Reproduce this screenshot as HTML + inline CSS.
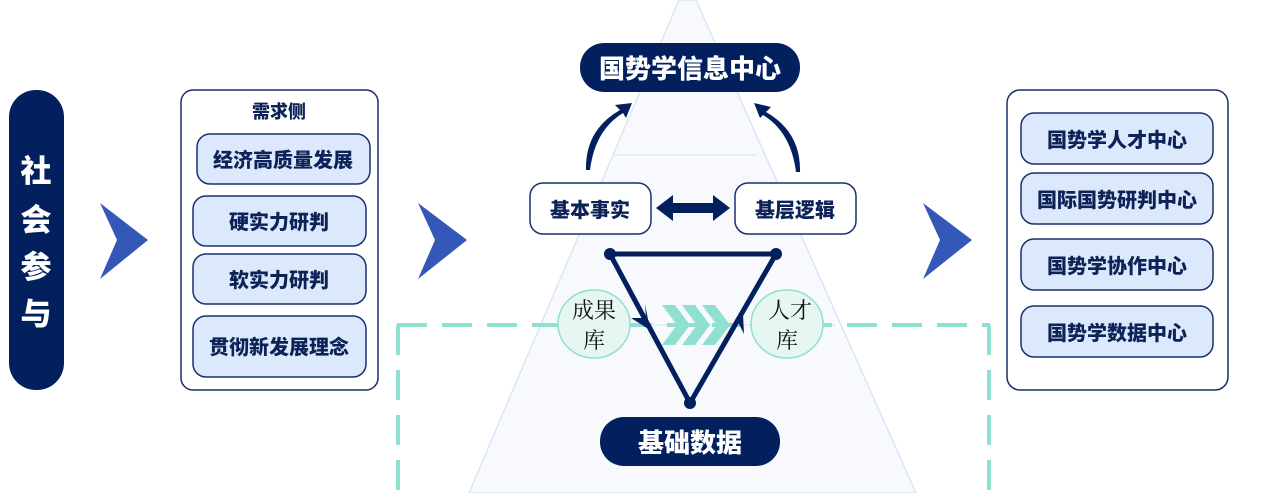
<!DOCTYPE html><html><head><meta charset="utf-8"><style>body{margin:0;background:#fff}svg{display:block}text{font-family:"Liberation Sans","Noto Sans CJK SC",sans-serif;font-weight:900}</style></head><body>
<svg width="1269" height="493" viewBox="0 0 1269 493" xmlns="http://www.w3.org/2000/svg">
<polygon points="679,0 696,0 916,493 469,493" fill="#f7f9fd" stroke="#dbe6f5" stroke-width="1.5"/>
<line x1="612" y1="155" x2="757" y2="155" stroke="#e2eaf4" stroke-width="1.5"/>
<line x1="540" y1="325" x2="835" y2="325" stroke="#e2eaf4" stroke-width="1.5"/>
<g stroke="#8fe0d0" stroke-width="4" fill="none" stroke-dasharray="30 15">
<line x1="397" y1="325" x2="990" y2="325"/>
<line x1="398" y1="325" x2="398" y2="493"/>
<line x1="989" y1="325" x2="989" y2="493"/>
</g>
<rect x="9" y="90" width="55" height="300" rx="27" fill="#03205e"/>
<g fill="#fff" font-size="31" text-anchor="middle"><text x="36" y="182">社</text><text x="36" y="231">会</text><text x="36" y="278">参</text><text x="36" y="325">与</text></g>
<g fill="#3358b8"><polygon points="100,203 148,240 100,279 117,240"/><polygon points="418,203 467,240 418,279 435,240"/><polygon points="923,203 972,240 923,279 940,240"/></g>
<rect x="181" y="90" width="197" height="300" rx="12" fill="#fff" stroke="#1a2f6e" stroke-width="1.5"/>
<rect x="1007" y="90" width="221" height="300" rx="13" fill="#fff" stroke="#1a2f6e" stroke-width="1.5"/>
<rect x="580" y="43" width="220" height="49" rx="24" fill="#03205e"/>
<text x="690" y="78" font-size="26" fill="#fff" text-anchor="middle">国势学信息中心</text>
<g fill="#dce8fb" stroke="#1a2f6e" stroke-width="1.5">
<rect x="197" y="134" width="173" height="50" rx="13"/><rect x="193" y="196" width="173" height="50" rx="13"/><rect x="193" y="254" width="173" height="50" rx="13"/><rect x="193" y="316" width="173" height="61" rx="13"/>
<rect x="1021" y="113" width="192" height="51" rx="13"/><rect x="1021" y="173" width="192" height="51" rx="13"/><rect x="1021" y="239" width="192" height="51" rx="13"/><rect x="1021" y="306" width="192" height="51" rx="13"/>
</g>
<rect x="530" y="183" width="121" height="51" rx="13" fill="#fff" stroke="#1a2f6e" stroke-width="1.5"/>
<rect x="735" y="183" width="121" height="51" rx="13" fill="#fff" stroke="#1a2f6e" stroke-width="1.5"/>
<g fill="#0d2257" font-size="20" text-anchor="middle">
<text x="279" y="118" font-size="18">需求侧</text>
<text x="283" y="167">经济高质量发展</text><text x="279" y="229">硬实力研判</text><text x="279" y="287">软实力研判</text><text x="279" y="354">贯彻新发展理念</text>
<text x="1117" y="147">国势学人才中心</text><text x="1117" y="207">国际国势研判中心</text><text x="1117" y="273">国势学协作中心</text><text x="1117" y="340">国势学数据中心</text>
<text x="590" y="217">基本事实</text><text x="795" y="217">基层逻辑</text>
</g>
<polygon points="656,208 673,195 673,203 713,203 713,195 730,208 713,221 713,213 673,213 673,221" fill="#03205e"/>
<path d="M586,170 Q585,130 620,110 L615,105 L632,103 L626,118 L623,113 Q595,130 590,170 Z" fill="#03205e"/>
<path d="M800,172 Q801,132 766,112 L771,107 L754,103 L760,118 L763,115 Q791,132 796,172 Z" fill="#03205e"/>
<ellipse cx="594" cy="324" rx="36" ry="34" fill="#e6f7f2" stroke="#8fe0d0" stroke-width="1.5"/>
<ellipse cx="787" cy="324" rx="36" ry="34" fill="#e6f7f2" stroke="#8fe0d0" stroke-width="1.5"/>
<g fill="#8fe0d0"><polygon points="662,305 675,305 690,325 675,345 662,345 677,325"/><polygon points="682,305 695,305 710,325 695,345 682,345 697,325"/><polygon points="702,305 715,305 730,325 715,345 702,345 717,325"/></g>
<g fill="#111" font-size="22">
<text x="594" y="318" text-anchor="middle" style="font-family:'Noto Serif CJK SC',serif;font-weight:normal">成果</text><text x="594" y="348" text-anchor="middle" style="font-family:'Noto Serif CJK SC',serif;font-weight:normal">库</text>
<text x="790" y="318" text-anchor="middle" style="font-family:'Noto Serif CJK SC',serif;font-weight:normal">人才</text><text x="787" y="348" text-anchor="middle" style="font-family:'Noto Serif CJK SC',serif;font-weight:normal">库</text>
</g>
<polygon points="610,254 776,254 690,403" fill="none" stroke="#03205e" stroke-width="5" stroke-linejoin="round"/>
<g fill="#03205e"><circle cx="610" cy="254" r="6"/><circle cx="776" cy="254" r="6"/><circle cx="690" cy="403" r="6"/>
<polygon points="650,330 631,318 646,318 645,304"/><polygon points="743,314 724,325 736,318 744,334"/></g>
<rect x="600" y="417" width="180" height="49" rx="24" fill="#03205e"/>
<text x="690" y="452" font-size="26" fill="#fff" text-anchor="middle">基础数据</text>
</svg></body></html>
